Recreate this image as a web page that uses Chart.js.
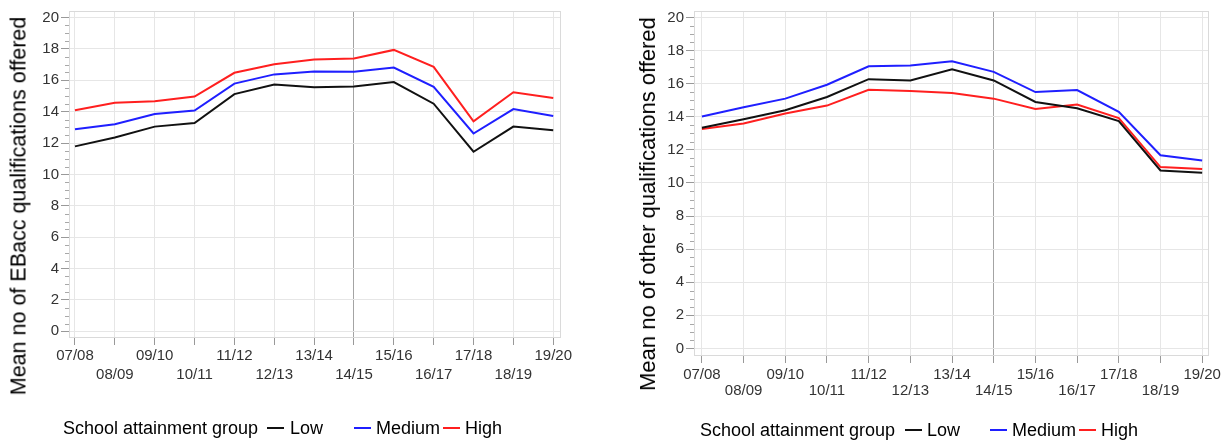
<!DOCTYPE html>
<html>
<head>
<meta charset="utf-8">
<script src="https://cdn.jsdelivr.net/npm/chart.js@4.4.0/dist/chart.umd.min.js"></script>
<style>
  body { margin: 0; background: #fff; font-family: "Liberation Sans", Arial, sans-serif; }
  #wrap { position: relative; width: 1229px; height: 441px; overflow: hidden; }
  canvas { position: absolute; top: 0; }
  .ytitle { position: absolute; white-space: nowrap; color: #000; transform: translate(-50%, -50%) rotate(-90deg); }
  .leg { position: absolute; font-size: 18px; line-height: 20px; color: #000; white-space: nowrap; }
  .swatch { position: absolute; height: 2px; width: 17px; }
</style>
</head>
<body>
<div id="wrap">
  <canvas id="ebaccChart" width="600" height="441" style="left:0px"></canvas>
  <canvas id="otherChart" width="609" height="441" style="left:620px"></canvas>

  <div class="ytitle" style="left:19px; top:206px; font-size:21.5px">Mean no of EBacc qualifications offered</div>
  <div class="ytitle" style="left:648px; top:204px; font-size:22px">Mean no of other qualifications offered</div>

  <!-- leyenda izquierda -->
  <div class="leg" style="left:63px; top:418px">School attainment group</div>
  <div class="swatch" style="left:267px; top:427px; background:#111"></div>
  <div class="leg" style="left:290px; top:418px">Low</div>
  <div class="swatch" style="left:354px; top:427px; background:#1f1fff"></div>
  <div class="leg" style="left:376px; top:418px">Medium</div>
  <div class="swatch" style="left:443px; top:427px; background:#ff1f1f"></div>
  <div class="leg" style="left:465px; top:418px">High</div>

  <!-- leyenda derecha -->
  <div class="leg" style="left:700px; top:420px">School attainment group</div>
  <div class="swatch" style="left:905px; top:429px; background:#111"></div>
  <div class="leg" style="left:927px; top:420px">Low</div>
  <div class="swatch" style="left:990px; top:429px; background:#1f1fff"></div>
  <div class="leg" style="left:1012px; top:420px">Medium</div>
  <div class="swatch" style="left:1079px; top:429px; background:#ff1f1f"></div>
  <div class="leg" style="left:1101px; top:420px">High</div>
</div>

<script>
// Años académicos (categorías del eje X)
const seasons = ['07/08', '08/09', '09/10', '10/11', '11/12', '12/13', '13/14',
                 '14/15', '15/16', '16/17', '17/18', '18/19', '19/20'];

// Etiquetas del eje Y (mayores) y paso de las marcas menores
const yTickValues = [0, 2, 4, 6, 8, 10, 12, 14, 16, 18, 20];
const minorStep = 0.5;

// Año marcado con la línea vertical
const markedSeason = '14/15';

// Media de cualificaciones EBacc ofrecidas
const ebaccLow    = [11.79, 12.36, 13.05, 13.28, 15.12, 15.73, 15.56, 15.60, 15.89, 14.51, 11.45, 13.05, 12.82];
const ebaccMedium = [12.88, 13.20, 13.85, 14.08, 15.79, 16.38, 16.57, 16.55, 16.82, 15.58, 12.61, 14.17, 13.73];
const ebaccHigh   = [14.10, 14.57, 14.67, 14.97, 16.48, 17.03, 17.33, 17.39, 17.94, 16.86, 13.39, 15.24, 14.88];

// Media de otras cualificaciones ofrecidas
const otherLow    = [13.34, 13.86, 14.40, 15.20, 16.28, 16.20, 16.88, 16.20, 14.90, 14.52, 13.74, 10.76, 10.62];
const otherMedium = [14.02, 14.58, 15.10, 15.94, 17.06, 17.10, 17.36, 16.72, 15.50, 15.62, 14.30, 11.68, 11.36];
const otherHigh   = [13.26, 13.60, 14.20, 14.68, 15.64, 15.56, 15.44, 15.10, 14.48, 14.74, 13.92, 10.96, 10.84];

const groupNames = ['Low', 'Medium', 'High'];
const groupColors = ['#111111', '#1f1fff', '#ff1f1f'];

const FONT = '"Liberation Sans", Arial, sans-serif';

// Dibuja el marco del área del gráfico y las marcas menores del eje Y
const frameAndMinorTicks = {
    id: 'frameAndMinorTicks',
    afterDraw(chart) {
        const {ctx, chartArea} = chart;
        const y = chart.scales.y;
        ctx.save();
        ctx.strokeStyle = '#a8a8a8';
        ctx.lineWidth = 1;
        for (let v = Math.ceil(y.min / minorStep) * minorStep; v <= y.max; v += minorStep) {
            if (yTickValues.includes(v)) continue;
            const py = Math.round(y.getPixelForValue(v)) + 0.5;
            ctx.beginPath();
            ctx.moveTo(chartArea.left - 4, py);
            ctx.lineTo(chartArea.left, py);
            ctx.stroke();
        }
        ctx.strokeStyle = '#dadada';
        ctx.strokeRect(Math.round(chartArea.left) + 0.5, Math.round(chartArea.top) + 0.5,
                       Math.round(chartArea.right - chartArea.left), Math.round(chartArea.bottom - chartArea.top));
        ctx.restore();
    }
};

function buildChart(canvasId, series, cfg) {
    const markedIndex = seasons.indexOf(markedSeason);
    const datasets = series.map((values, i) => ({
        label: groupNames[i],
        data: values.map((v, k) => ({x: k, y: v})),
        borderColor: groupColors[i],
        backgroundColor: groupColors[i],
        borderWidth: 2,
        pointRadius: 0,
        tension: 0,
        fill: false
    }));

    return new Chart(document.getElementById(canvasId), {
        type: 'line',
        data: {datasets: datasets},
        options: {
            responsive: false,
            animation: false,
            devicePixelRatio: 1,
            layout: {padding: cfg.padding},
            plugins: {legend: {display: false}, tooltip: {enabled: false}},
            scales: {
                x: {
                    type: 'linear',
                    min: cfg.xMin,
                    max: cfg.xMax,
                    afterBuildTicks: scale => { scale.ticks = seasons.map((s, k) => ({value: k})); },
                    afterFit: scale => { scale.height = cfg.xHeight; },
                    grid: {
                        color: c => (c.tick && c.tick.value === markedIndex) ? '#a4a4a4' : '#e6e6e6',
                        tickColor: '#999',
                        tickLength: 8
                    },
                    border: {color: '#dadada'},
                    ticks: {
                        autoSkip: false,
                        maxRotation: 0,
                        minRotation: 0,
                        padding: cfg.xPad,
                        color: '#333',
                        font: {family: FONT, size: 15, lineHeight: cfg.xLine},
                        callback: (value, index) => index % 2 === 1 ? ['', seasons[value]] : seasons[value]
                    }
                },
                y: {
                    type: 'linear',
                    min: cfg.yMin,
                    max: cfg.yMax,
                    afterBuildTicks: scale => { scale.ticks = yTickValues.map(v => ({value: v})); },
                    afterFit: scale => { scale.width = cfg.yWidth; },
                    grid: {color: '#e6e6e6', tickColor: '#999', tickLength: 8},
                    border: {color: '#dadada'},
                    ticks: {
                        padding: 2,
                        color: '#333',
                        font: {family: FONT, size: 15}
                    }
                }
            }
        },
        plugins: [frameAndMinorTicks]
    });
}

buildChart('ebaccChart', [ebaccLow, ebaccMedium, ebaccHigh], {
    padding: {left: 0, top: 8, right: 40, bottom: 0},
    yWidth: 69, xHeight: 104,
    xMin: -0.15, xMax: 12.17, yMin: -0.36, yMax: 20.42,
    xPad: 2, xLine: 1.22
});

buildChart('otherChart', [otherLow, otherMedium, otherHigh], {
    padding: {left: 0, top: 7, right: 21, bottom: 0},
    yWidth: 74, xHeight: 86,
    xMin: -0.19, xMax: 12.14, yMin: -0.4, yMax: 20.4,
    xPad: 3, xLine: 1.12
});
</script>
</body>
</html>
